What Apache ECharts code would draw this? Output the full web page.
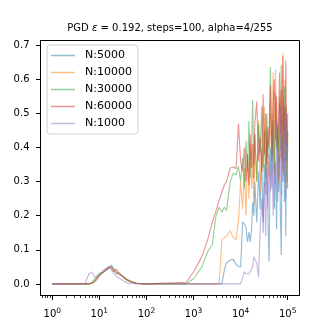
<!DOCTYPE html>
<html>
<head>
<meta charset="utf-8">
<script src="https://cdn.jsdelivr.net/npm/echarts@6.0.0/dist/echarts.min.js"></script>
<style>
  html, body { margin: 0; padding: 0; background: #fff; }
  #main { width: 332px; height: 332px; }
</style>
</head>
<body>
<div id="main"></div>
<script>
// x: step count (log scale)
var steps = [1, 2, 3, 4, 5, 6, 7, 8, 9, 10, 12, 14, 16, 18, 20, 23, 26, 30, 35, 40, 50, 60, 70, 80, 100,
    700, 1000, 1500, 2000, 2500, 3000, 3500, 4000, 4500, 5000, 6000, 7000, 8000, 9000,
    10000, 11000, 12000, 13000, 14000, 15000, 16000, 17000, 18000, 19000, 20000,
    22000, 24000, 26000, 28000, 30000, 32000, 34000, 36000, 38000, 40000,
    43000, 46000, 49000, 52000, 55000, 58000, 61000, 64000, 67000, 70000,
    73000, 76000, 79000, 82000, 85000, 88000, 91000, 94000, 97000, 100000];

var names = ['N:5000', 'N:10000', 'N:30000', 'N:60000', 'N:1000'];
var colors = ['rgba(31,119,180,0.5)', 'rgba(255,127,14,0.5)', 'rgba(44,160,44,0.5)', 'rgba(214,39,40,0.5)', 'rgba(148,103,189,0.5)'];

var n5000 = [0, 0, 0, 0, 0, 0, 0.003, 0.01, 0.02, 0.028, 0.035, 0.042, 0.05, 0.055, 0.045, 0.032, 0.028, 0.024, 0.015, 0.01, 0.004, 0.002, 0.001, 0, 0,
    0, 0, 0, 0, 0, 0, 0, 0, 0.04, 0.062, 0.07, 0.072, 0.056, 0.052,
    0.05, 0.182, 0.175, 0.167, 0.123, 0.152, 0.123, 0.157, 0.24, 0.20, 0.30,
    0.18, 0.33, 0.22, 0.38, 0.15, 0.35, 0.26, 0.42, 0.20, 0.065,
    0.40, 0.28, 0.50, 0.22, 0.36, 0.16, 0.45, 0.27, 0.38, 0.20,
    0.085, 0.43, 0.30, 0.52, 0.24, 0.40, 0.14, 0.47, 0.33, 0.28];

var n10000 = [0, 0, 0, 0, 0, 0, 0.002, 0.008, 0.018, 0.026, 0.035, 0.043, 0.048, 0.05, 0.044, 0.036, 0.028, 0.022, 0.016, 0.01, 0.005, 0.002, 0.001, 0, 0,
    0, 0, 0, 0, 0, 0, 0, 0.13, 0.135, 0.14, 0.156, 0.135, 0.13, 0.185,
    0.30, 0.22, 0.34, 0.20, 0.38, 0.25, 0.41, 0.28, 0.36, 0.23, 0.44,
    0.30, 0.48, 0.27, 0.40, 0.33, 0.52, 0.29, 0.45, 0.35, 0.31,
    0.50, 0.38, 0.62, 0.32, 0.629, 0.40, 0.46, 0.30, 0.55, 0.37,
    0.48, 0.33, 0.677, 0.42, 0.38, 0.60, 0.35, 0.50, 0.28, 0.44];

var n30000 = [0, 0, 0, 0, 0, 0, 0.004, 0.015, 0.025, 0.032, 0.034, 0.04, 0.046, 0.05, 0.04, 0.03, 0.034, 0.025, 0.016, 0.011, 0.005, 0.002, 0.001, 0, 0,
    0, 0.015, 0.05, 0.095, 0.115, 0.2, 0.225, 0.21, 0.225, 0.215, 0.3, 0.325, 0.32, 0.345,
    0.30, 0.37, 0.28, 0.42, 0.33, 0.478, 0.31, 0.40, 0.539, 0.35, 0.44,
    0.30, 0.47, 0.38, 0.52, 0.34, 0.45, 0.31, 0.50, 0.37, 0.43,
    0.636, 0.36, 0.48, 0.33, 0.56, 0.40, 0.47, 0.35, 0.53, 0.39,
    0.642, 0.37, 0.50, 0.32, 0.58, 0.43, 0.36, 0.52, 0.30, 0.45];

var n60000 = [0, 0, 0, 0, 0, 0, 0.002, 0.006, 0.014, 0.024, 0.034, 0.042, 0.05, 0.046, 0.036, 0.044, 0.03, 0.025, 0.018, 0.012, 0.006, 0.003, 0.001, 0.0005, 0,
    0.005, 0.035, 0.08, 0.13, 0.18, 0.215, 0.245, 0.27, 0.29, 0.30, 0.34, 0.343, 0.338, 0.47,
    0.36, 0.33, 0.40, 0.30, 0.38, 0.29, 0.44, 0.34, 0.41, 0.31, 0.47,
    0.535, 0.36, 0.43, 0.33, 0.556, 0.38, 0.50, 0.35, 0.46, 0.40,
    0.58, 0.37, 0.52, 0.60, 0.42, 0.55, 0.39, 0.49, 0.62, 0.44,
    0.57, 0.36, 0.668, 0.45, 0.52, 0.41, 0.655, 0.48, 0.40, 0.50];

var n1000 = [0, 0, 0, 0, 0.002, 0.03, 0.035, 0.02, 0.018, 0.022, 0.04, 0.046, 0.05, 0.04, 0.032, 0.022, 0.018, 0.012, 0.006, 0.003, 0.001, 0, 0, 0, 0,
    0, 0, 0, 0, 0, 0, 0, 0, 0, 0, 0, 0, 0, 0,
    0, 0, 0.036, 0.03, 0.026, 0.03, 0.036, 0.04, 0.05, 0.08, 0.075,
    0.06, 0.02, 0.16, 0.25, 0.18, 0.30, 0.14, 0.34, 0.22, 0.38,
    0.27, 0.45, 0.20, 0.35, 0.29, 0.48, 0.24, 0.40, 0.31, 0.52,
    0.26, 0.42, 0.34, 0.55, 0.30, 0.46, 0.25, 0.50, 0.36, 0.40];

var yTicks = [0, 0.1, 0.2, 0.3, 0.4, 0.5, 0.6, 0.7];
var xMajor = [0, 1, 2, 3, 4, 5];  // log10 of 10^0 .. 10^5

function pairs(ys) {
    var out = [];
    for (var i = 0; i < steps.length; i++) {
        out.push([steps[i], ys[i]]);
    }
    return out;
}

// minor tick positions (2..9 in every decade)
var xMinor = [];
for (var d = -1; d <= 5; d++) {
    for (var k = 2; k <= 9; k++) {
        var p = d + Math.log10(k);
        if (p > -0.25 && p < 5.25) xMinor.push(p);
    }
}

var allData = [n5000, n10000, n30000, n60000, n1000];
var series = [];
for (var i = 0; i < names.length; i++) {
    series.push({
        name: names[i],
        type: 'line',
        xAxisIndex: 0,
        yAxisIndex: 0,
        symbol: 'none',
        data: pairs(allData[i]),
        lineStyle: { width: 1.1, color: colors[i] },
        itemStyle: { color: colors[i] },
        animation: false
    });
}

// thin strips next to the plot: their split lines act as the tick marks
function stripAxis(gridIndex, extra) {
    var ax = {
        gridIndex: gridIndex, type: 'value',
        axisLine: { show: false, onZero: false },
        axisLabel: { show: false },
        splitLine: { show: false }
    };
    for (var key in extra) ax[key] = extra[key];
    return ax;
}

var chart = echarts.init(document.getElementById('main'));
var option = {
    animation: false,
    textStyle: { fontFamily: 'DejaVu Sans' },
    title: {
        text: '{a|PGD }{e|ε}{a| = 0.192, steps=100, alpha=4/255}',
        left: 170,
        top: 23,
        padding: 0,
        textAlign: 'center',
        textStyle: {
            fontWeight: 'normal',
            rich: {
                a: { fontSize: 10, color: '#000', fontWeight: 'normal', fontFamily: 'DejaVu Sans' },
                e: { fontSize: 10, color: '#000', fontWeight: 'normal', fontStyle: 'italic', fontFamily: 'DejaVu Sans' }
            }
        }
    },
    grid: [
        { left: 40.5, right: 32.5, top: 40.5, bottom: 36.5, show: true, borderColor: '#000', borderWidth: 1, outerBoundsMode: 'none' },
        { left: 36, width: 4.5, top: 40.5, bottom: 36.5, outerBoundsMode: 'none' },   // y ticks
        { left: 40.5, right: 32.5, top: 295.5, height: 4.5, outerBoundsMode: 'none' }, // x major ticks
        { left: 40.5, right: 32.5, top: 295.5, height: 2.5, outerBoundsMode: 'none' }  // x minor ticks
    ],
    legend: {
        orient: 'vertical',
        left: 47, top: 45,
        padding: [4, 6, 4, 4],
        icon: 'rect',
        itemWidth: 24, itemHeight: 1.5, itemGap: 4,
        backgroundColor: 'rgba(255,255,255,0.8)',
        borderColor: '#d0d0d0', borderWidth: 1, borderRadius: 3,
        textStyle: { fontSize: 11, lineHeight: 13, color: '#000', fontFamily: 'DejaVu Sans', padding: [0, 0, 0, 5] },
        data: names
    },
    xAxis: [
        {
            type: 'log', logBase: 10, gridIndex: 0,
            min: Math.pow(10, -0.25), max: Math.pow(10, 5.25),
            position: 'top', show: false,
            axisLine: { onZero: false }
        },
        {
            type: 'value', gridIndex: 0, min: -0.25, max: 5.25, position: 'bottom',
            axisLine: { show: true, onZero: false, lineStyle: { color: '#000', width: 1 } },
            splitLine: { show: false },
            axisTick: { show: true, interval: 0, customValues: xMajor, length: 4, lineStyle: { color: '#000', width: 1 } },
            axisLabel: {
                customValues: xMajor, interval: 0, margin: 12, color: '#000',
                formatter: function (v) { return '{b|10}{s|' + Math.round(v) + '}'; },
                rich: {
                    b: { fontSize: 10, lineHeight: 14, color: '#000', fontFamily: 'DejaVu Sans' },
                    s: { fontSize: 7.5, lineHeight: 6, verticalAlign: 'top', color: '#000', fontFamily: 'DejaVu Sans' }
                }
            }
        },
        stripAxis(1, { min: 0, max: 1, show: false }),
        stripAxis(2, {
            min: -0.25, max: 5.25,
            axisTick: { show: false, customValues: xMajor },
            splitLine: { show: true, lineStyle: { color: '#000', width: 1 } }
        }),
        stripAxis(3, {
            min: -0.25, max: 5.25,
            axisTick: { show: false, customValues: xMinor },
            splitLine: { show: true, lineStyle: { color: '#000', width: 0.8 } }
        })
    ],
    yAxis: [
        {
            type: 'value', gridIndex: 0, min: -0.034, max: 0.714,
            axisLine: { show: true, onZero: false, lineStyle: { color: '#000', width: 1 } },
            splitLine: { show: false },
            axisTick: { show: true, interval: 0, customValues: yTicks, length: 4, lineStyle: { color: '#000', width: 1 } },
            axisLabel: {
                customValues: yTicks, interval: 0, margin: 11, color: '#000', fontSize: 10, fontFamily: 'DejaVu Sans',
                formatter: function (v) { return v.toFixed(1); }
            }
        },
        stripAxis(1, {
            min: -0.034, max: 0.714,
            axisTick: { show: false, customValues: yTicks },
            splitLine: { show: true, lineStyle: { color: '#000', width: 1 } }
        }),
        stripAxis(2, { min: 0, max: 1, show: false }),
        stripAxis(3, { min: 0, max: 1, show: false })
    ],
    series: series
};
chart.setOption(option);
</script>
</body>
</html>
